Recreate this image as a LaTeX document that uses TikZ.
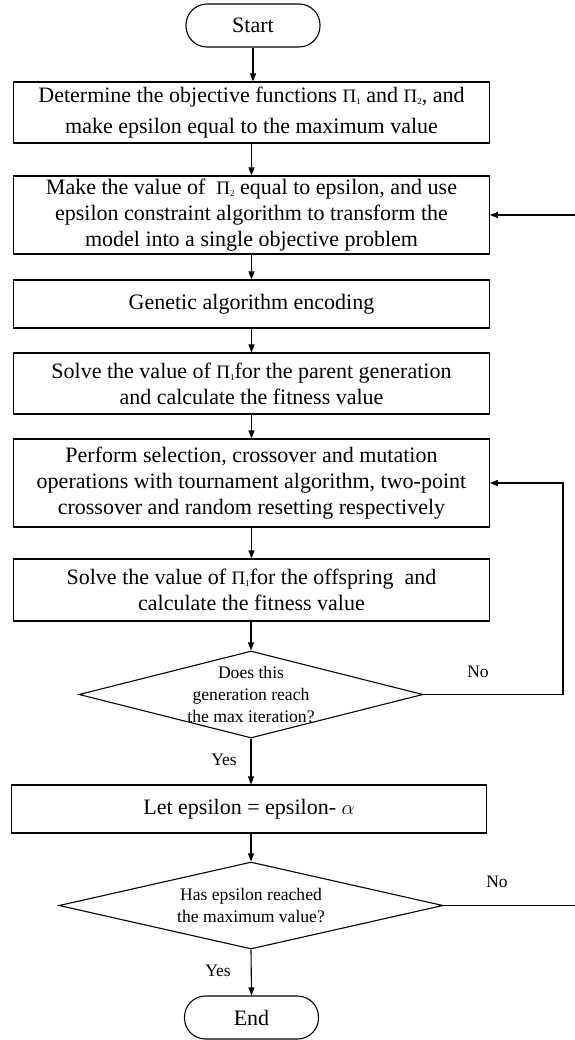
\documentclass[tikz,border=0pt]{standalone}
\usepackage{fontspec}
\setmainfont{Liberation Serif}
\usetikzlibrary{shapes.geometric,arrows.meta}
\newcommand{\PiSym}[1]{{\fontsize{19}{19}\selectfont Π}\raisebox{-2pt}{\fontsize{9}{9}\selectfont #1}}
\tikzset{
  procbox/.style={draw, line width=1.1pt, minimum width=475.5pt, align=center,
    font=\fontsize{22}{26}\selectfont, inner sep=0pt},
  termbox/.style={draw, line width=1.1pt, rounded corners=21pt, minimum width=134pt,
    minimum height=43pt, font=\fontsize{22}{26}\selectfont, inner sep=0pt},
  diabox/.style={draw, diamond, line width=1.1pt, inner sep=0pt},
  diatext/.style={align=center, font=\fontsize{17.6}{22}\selectfont, inner sep=0pt},
  lbl/.style={font=\fontsize{17.5}{20}\selectfont, inner sep=0pt},
  conn/.style={line width=1.1pt, -{Triangle[length=8pt,width=6pt]}},
  plainline/.style={line width=1.1pt}
}
\begin{document}
\begin{tikzpicture}[x=1pt,y=-1pt]
\useasboundingbox (0,0) rectangle (574,1040);
\node[termbox] (start) at (253,25.5) {Start};
\node[procbox, minimum height=61pt] (b1) at (251.5,112.5)
  {Determine the objective functions \PiSym{1} and \PiSym{2}, and\\[5pt] make epsilon equal to the maximum value};
\node[procbox, minimum height=78pt] (b2) at (251.5,215)
  {Make the value of \ \PiSym{2} equal to epsilon, and use\\ epsilon constraint algorithm to transform the\\ model into a single objective problem};
\node[procbox, minimum height=48pt] (b3) at (251.5,304) {Genetic algorithm encoding};
\node[procbox, minimum height=61pt] (b4) at (251.5,383.5)
  {Solve the value of \PiSym{1}for the parent generation\\ and calculate the fitness value};
\node[procbox, minimum height=88pt] (b5) at (251.5,483)
  {Perform selection, crossover and mutation\\ operations with tournament algorithm, two-point\\ crossover and random resetting respectively};
\node[procbox, minimum height=62pt] (b6) at (251.5,590)
  {Solve the value of \PiSym{1}for the offspring\ \ and\\ calculate the fitness value};
\node[diabox, minimum width=344pt, minimum height=87pt] (d1) at (251,694.5) {};
\node[diatext] (d1t) at (251,694.5) {Does this\\ generation reach\\ the max iteration?};
\node[procbox, minimum height=48pt] (b7) at (249,809) {Let epsilon = epsilon- $\alpha$};
\node[diabox, minimum width=384pt, minimum height=87pt] (d2) at (251,905.5) {};
\node[diatext] (d2t) at (251,905.5) {Has epsilon reached\\ the maximum value?};
\node[termbox] (end) at (251.5,1017.5) {End};

\node[lbl] (no1) at (478,672) {No};
\node[lbl] (yes1) at (224,760) {Yes};
\node[lbl] (no2) at (497,882) {No};
\node[lbl] (yes2) at (218,971) {Yes};

\coordinate (r1) at (580,905.5);
\coordinate (r2) at (563,694.5);

\draw[conn] (start.south) -- (start.south |- b1.north);
\draw[conn] (b1.south -| b2.north) -- (b2.north);
\draw[conn] (b2.south) -- (b3.north);
\draw[conn] (b3.south) -- (b4.north);
\draw[conn] (b4.south) -- (b5.north);
\draw[conn] (b5.south) -- (b6.north);
\draw[conn] (b6.south -| d1.north) -- (d1.north);
\draw[conn] (d1.south) -- (d1.south |- b7.north);
\draw[conn] (b7.south -| d2.north) -- (d2.north);
\draw[conn] (d2.south) -- (end.north);
\draw[conn] (d1.east) -- (r2) |- (b5.east);
\draw[conn] (d2.east) -- (r1) |- (b2.east);
\end{tikzpicture}
\end{document}
